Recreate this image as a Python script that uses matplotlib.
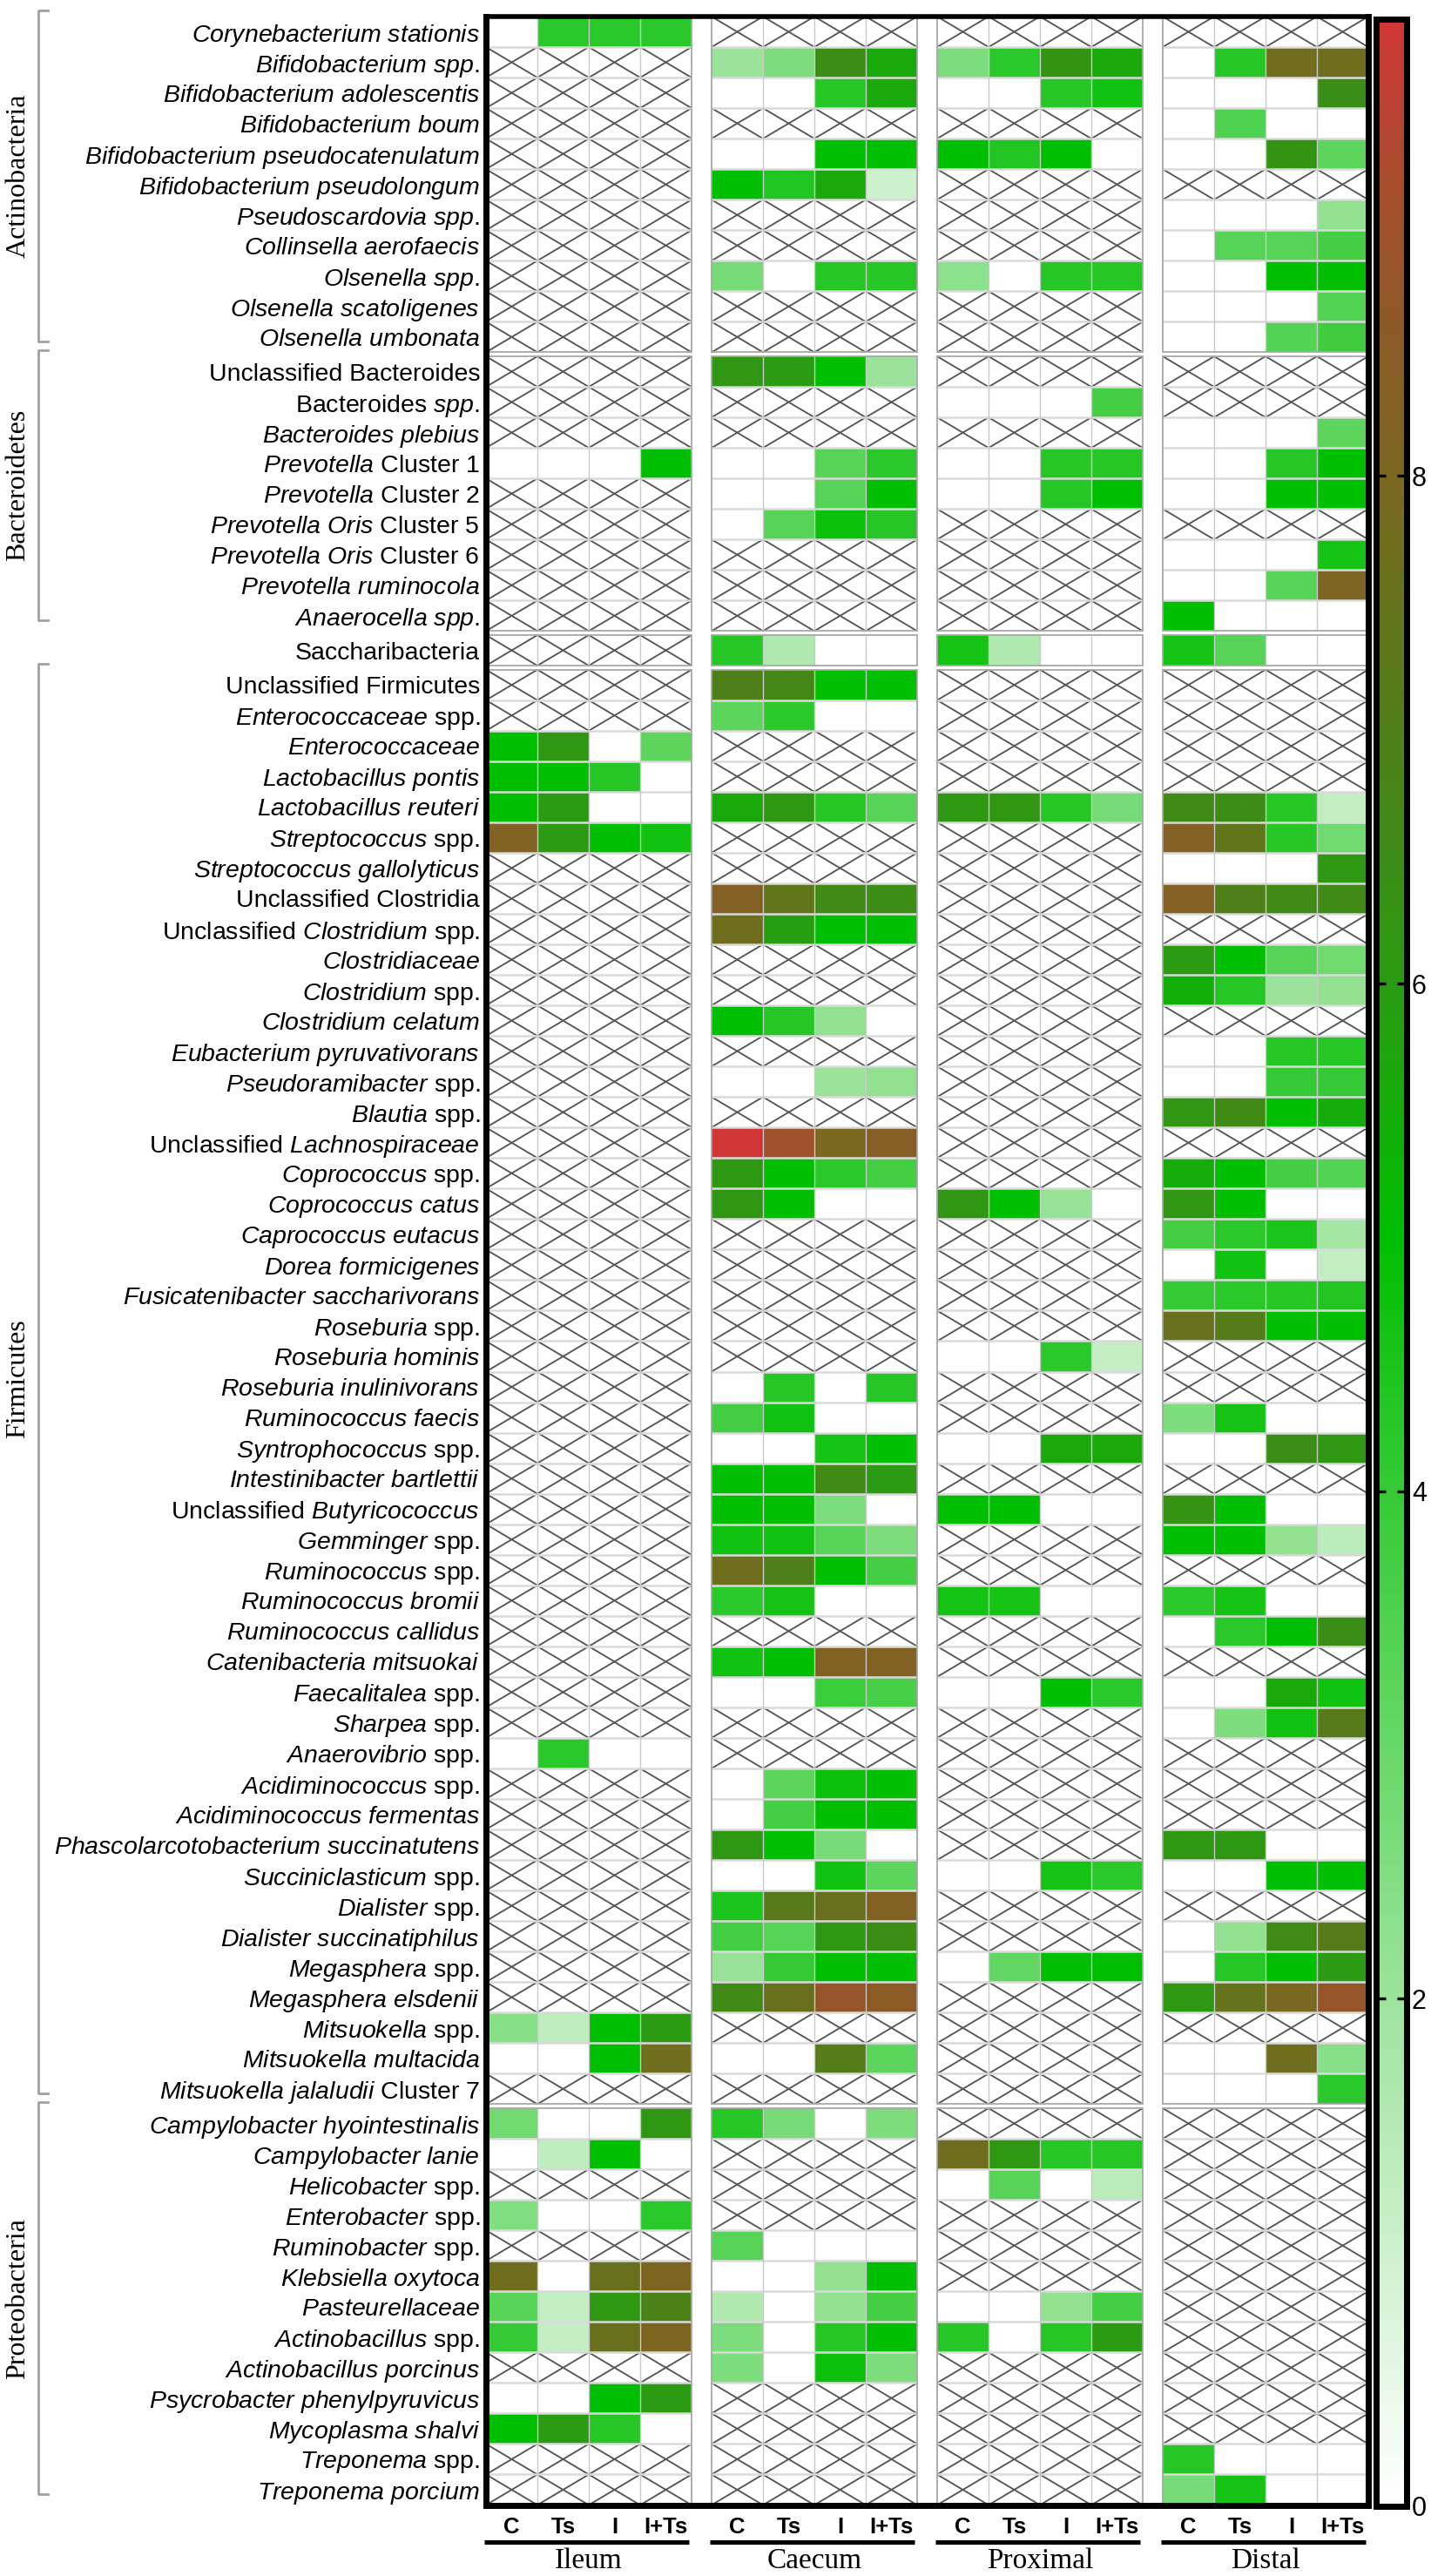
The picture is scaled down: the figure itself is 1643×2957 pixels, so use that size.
import numpy as np
import matplotlib
matplotlib.use("Agg")
import matplotlib.pyplot as plt
from matplotlib.colors import LinearSegmentedColormap, Normalize
from matplotlib.collections import LineCollection
from matplotlib.patches import Rectangle
import matplotlib.cm as cm
import matplotlib.transforms as mtransforms

plt.rcParams['font.family'] = ['Liberation Sans', 'DejaVu Sans']
plt.rcParams['mathtext.fontset'] = 'custom'
plt.rcParams['mathtext.it'] = 'Liberation Sans:italic'
plt.rcParams['mathtext.rm'] = 'Liberation Sans'
plt.rcParams['mathtext.bf'] = 'Liberation Sans:bold'

N = np.nan
NN = [N, N, N, N]

taxa = [
    "*Corynebacterium stationis*", "*Bifidobacterium spp.*", "*Bifidobacterium adolescentis*",
    "*Bifidobacterium boum*", "*Bifidobacterium pseudocatenulatum*", "*Bifidobacterium pseudolongum*",
    "*Pseudoscardovia spp.*", "*Collinsella aerofaecis*", "*Olsenella spp.*",
    "*Olsenella scatoligenes*", "*Olsenella umbonata*",
    "Unclassified Bacteroides", "Bacteroides *spp.*", "*Bacteroides plebius*",
    "*Prevotella* Cluster 1", "*Prevotella* Cluster 2", "*Prevotella Oris* Cluster 5",
    "*Prevotella Oris* Cluster 6", "*Prevotella ruminocola*", "*Anaerocella spp.*",
    "Saccharibacteria",
    "Unclassified Firmicutes", "*Enterococcaceae* spp.", "*Enterococcaceae*",
    "*Lactobacillus pontis*", "*Lactobacillus reuteri*", "*Streptococcus* spp.",
    "*Streptococcus gallolyticus*", "Unclassified Clostridia", "Unclassified *Clostridium* spp.",
    "*Clostridiaceae*", "*Clostridium* spp.", "*Clostridium celatum*",
    "*Eubacterium pyruvativorans*", "*Pseudoramibacter* spp.", "*Blautia* spp.",
    "Unclassified *Lachnospiraceae*", "*Coprococcus* spp.", "*Coprococcus catus*",
    "*Caprococcus eutacus*", "*Dorea formicigenes*", "*Fusicatenibacter saccharivorans*",
    "*Roseburia* spp.", "*Roseburia hominis*", "*Roseburia inulinivorans*",
    "*Ruminococcus faecis*", "*Syntrophococcus* spp.", "*Intestinibacter bartlettii*",
    "Unclassified *Butyricococcus*", "*Gemminger* spp.", "*Ruminococcus* spp.",
    "*Ruminococcus bromii*", "*Ruminococcus callidus*", "*Catenibacteria mitsuokai*",
    "*Faecalitalea* spp.", "*Sharpea* spp.", "*Anaerovibrio* spp.",
    "*Acidiminococcus* spp.", "*Acidiminococcus fermentas*", "*Phascolarcotobacterium succinatutens*",
    "*Succiniclasticum* spp.", "*Dialister* spp.", "*Dialister succinatiphilus*",
    "*Megasphera* spp.", "*Megasphera elsdenii*", "*Mitsuokella* spp.",
    "*Mitsuokella multacida*", "*Mitsuokella jalaludii* Cluster 7",
    "*Campylobacter hyointestinalis*", "*Campylobacter lanie*", "*Helicobacter* spp.",
    "*Enterobacter* spp.", "*Ruminobacter* spp.", "*Klebsiella oxytoca*",
    "*Pasteurellaceae*", "*Actinobacillus* spp.", "*Actinobacillus porcinus*",
    "*Psycrobacter phenylpyruvicus*", "*Mycoplasma shalvi*", "*Treponema* spp.",
    "*Treponema porcium*",
]

phylum_names = ["Actinobacteria", "Bacteroidetes", "", "Firmicutes", "Proteobacteria"]
phylum_sizes = [11, 9, 1, 47, 13]
sites = ["Ileum", "Caecum", "Proximal", "Distal"]
treatments = ["C", "Ts", "I", "I+Ts"]
cbar_ticks = [0, 2, 4, 6, 8]
vmax = 9.8

ileum = [
    [0, 4.2, 4.2, 4.2], NN, NN, NN, NN, NN, NN, NN, NN, NN, NN,          # 1-11
    NN, NN, NN, [0, 0, 0, 5.0], NN, NN, NN, NN, NN,                       # 12-20
    NN,                                                                    # 21
    NN, NN, [5.0, 6.1, 0, 3.2], [5.0, 5.0, 4.3, 0], [5.0, 6.0, 0, 0],     # 22-26
    [8.2, 6.0, 5.0, 4.7], NN, NN, NN, NN, NN, NN, NN, NN, NN,             # 27-36
    NN, NN, NN, NN, NN, NN, NN, NN, NN, NN,                               # 37-46
    NN, NN, NN, NN, NN, NN, NN, NN, NN, NN,                               # 47-56
    [0, 4.2, 0, 0], NN, NN, NN, NN, NN, NN, NN, NN,                       # 57-65
    [2.4, 1.3, 5.0, 6.0], [0, 0, 5.0, 7.7], NN,                           # 66-68
    [2.8, 0, 0, 6.1], [0, 1.3, 5.0, 0], NN, [2.5, 0, 0, 4.2], NN,         # 69-73
    [7.7, 0, 7.6, 8.1], [3.3, 1.2, 6.1, 6.9], [4.0, 1.2, 7.6, 8.1], NN,   # 74-77
    [0, 0, 5.0, 6.0], [5.0, 6.0, 4.3, 0], NN, NN,                         # 78-81
]

caecum = [
    NN, [2.0, 2.6, 6.5, 5.6], [0, 0, 4.3, 5.6], NN, [0, 0, 5.0, 5.0],
    [5.0, 4.4, 5.6, 1.0], NN, NN, [2.7, 0, 4.3, 4.3], NN, NN,             # 1-11
    [6.2, 6.0, 5.0, 2.0], NN, NN, [0, 0, 3.3, 4.2], [0, 0, 3.3, 5.0],
    [0, 3.3, 4.8, 4.3], NN, NN, NN,                                       # 12-20
    [4.3, 1.6, 0, 0],                                                     # 21
    [7.0, 6.7, 5.0, 5.0], [3.2, 4.2, 0, 0], NN, NN, [5.6, 6.1, 4.3, 3.3], # 22-26
    NN, NN, [8.3, 7.4, 6.6, 6.5], [7.7, 5.9, 5.0, 5.0], NN, NN,           # 27-32
    [5.0, 4.3, 2.2, 0], NN, [0, 0, 2.0, 2.2], NN, [9.8, 9.0, 8.0, 8.4],   # 33-37
    [6.1, 5.0, 4.2, 3.7], [6.2, 5.0, 0, 0], NN, NN, NN, NN, NN,           # 38-44
    [0, 4.3, 0, 4.3], [3.7, 4.7, 0, 0], [0, 0, 4.6, 5.0],                 # 45-47
    [5.0, 5.0, 6.6, 6.0], [5.0, 5.0, 2.6, 0], [4.7, 4.7, 3.3, 2.6],       # 48-50
    [7.7, 7.0, 5.0, 3.7], [4.2, 4.6, 0, 0], NN, [4.7, 5.0, 8.2, 8.2],     # 51-54
    [0, 0, 3.9, 3.6], NN, NN, [0, 3.2, 4.8, 5.0], [0, 3.7, 5.0, 5.0],     # 55-59
    [6.1, 5.0, 2.7, 0], [0, 0, 4.7, 3.2], [4.5, 7.2, 7.6, 8.2],           # 60-62
    [3.7, 3.3, 6.1, 6.5], [2.1, 4.0, 5.0, 5.0], [6.6, 7.6, 8.8, 8.5],     # 63-65
    NN, [0, 0, 7.1, 3.2], NN,                                             # 66-68
    [4.3, 2.7, 0, 2.6], NN, NN, NN, [3.3, 0, 0, 0], [0, 0, 2.2, 5.0],     # 69-74
    [1.6, 0, 2.2, 3.7], [2.6, 0, 4.3, 5.0], [2.6, 0, 4.8, 2.6],           # 75-77
    NN, NN, NN, NN,                                                       # 78-81
]

proximal = [
    NN, [2.6, 4.2, 6.3, 5.6], [0, 0, 4.3, 4.7], NN, [5.0, 4.4, 5.0, 0],
    NN, NN, NN, [2.3, 0, 4.3, 4.3], NN, NN,                               # 1-11
    NN, [0, 0, 0, 3.7], NN, [0, 0, 4.3, 4.3], [0, 0, 4.3, 5.0],
    NN, NN, NN, NN,                                                       # 12-20
    [4.6, 1.6, 0, 0],                                                     # 21
    NN, NN, NN, NN, [6.1, 6.2, 4.3, 2.7],                                 # 22-26
    NN, NN, NN, NN, NN, NN, NN, NN, NN, NN, NN, NN,                       # 27-38
    [6.2, 5.0, 2.1, 0], NN, NN, NN, NN, [0, 0, 4.2, 1.2], NN, NN,         # 39-46
    [0, 0, 5.6, 5.6], NN, [5.0, 5.0, 0, 0], NN, NN, [4.6, 4.6, 0, 0],     # 47-52
    NN, NN, [0, 0, 5.0, 4.2], NN, NN, NN, NN, NN,                         # 53-60
    [0, 0, 4.6, 4.2], NN, NN, [0, 3.1, 5.0, 5.0], NN, NN, NN, NN,         # 61-68
    NN, [7.7, 6.1, 4.3, 4.3], [0, 3.3, 0, 1.4], NN, NN, NN,               # 69-74
    [0, 0, 2.2, 3.7], [4.3, 0, 4.3, 6.0], NN, NN, NN, NN, NN,             # 75-81
]

distal = [
    NN, [0, 4.3, 7.8, 7.7], [0, 0, 0, 6.4], [0, 3.5, 0, 0], [0, 0, 6.3, 3.2],
    NN, [0, 0, 0, 2.2], [0, 3.3, 3.3, 3.7], [0, 0, 5.0, 5.0],
    [0, 0, 0, 3.4], [0, 0, 3.4, 3.8],                                     # 1-11
    NN, NN, [0, 0, 0, 3.2], [0, 0, 4.3, 5.0], [0, 0, 5.0, 5.0], NN,
    [0, 0, 0, 4.6], [0, 0, 3.3, 8.1], [5.0, 0, 0, 0],                     # 12-20
    [4.6, 3.3, 0, 0],                                                     # 21
    NN, NN, NN, NN, [6.6, 6.5, 4.3, 1.2], [8.3, 7.4, 4.3, 2.8],           # 22-27
    [0, 0, 0, 6.1], [8.3, 7.0, 6.6, 6.6], NN, [6.0, 5.0, 3.3, 2.8],       # 28-31
    [5.4, 4.3, 2.0, 2.2], NN, [0, 0, 4.3, 4.3], [0, 0, 4.0, 4.0],         # 32-35
    [6.2, 6.6, 5.0, 5.5], NN, [5.5, 5.0, 3.7, 3.4], [6.2, 5.0, 0, 0],     # 36-39
    [3.7, 4.2, 4.5, 1.8], [0, 4.7, 0, 1.2], [4.0, 4.2, 4.3, 4.4],         # 40-42
    [7.6, 7.1, 5.0, 5.0], NN, NN, [2.6, 4.6, 0, 0], [0, 0, 6.4, 6.2],     # 43-47
    NN, [6.3, 5.0, 0, 0], [5.0, 5.0, 2.2, 1.4], NN, [4.2, 4.6, 0, 0],     # 48-52
    [0, 4.2, 5.0, 6.4], NN, [0, 0, 5.6, 4.7], [0, 2.6, 4.7, 7.2],         # 53-56
    NN, NN, NN, [6.1, 6.1, 0, 0], [0, 0, 5.0, 5.0], NN,                   # 57-62
    [0, 2.2, 6.6, 7.2], [0, 4.3, 5.0, 6.0], [6.1, 7.5, 8.0, 8.8],         # 63-65
    NN, [0, 0, 7.7, 2.4], [0, 0, 0, 4.2],                                 # 66-68
    NN, NN, NN, NN, NN, NN, NN, NN, NN, NN, NN,                           # 69-79
    [4.3, 0, 0, 0], [2.7, 4.6, 0, 0],                                     # 80-81
]

groups = [ileum, caecum, proximal, distal]
for g in groups:
    assert len(g) == len(taxa) == 81

# ---- colormap (white -> green -> olive -> brown -> red) ----
cm_vals = [0.0, 1.0, 2.0, 3.0, 4.0, 5.0, 6.0, 7.0, 8.0, 8.6, 9.2, 9.8]
cm_cols = ['#ffffff', '#cdf0cd', '#9be39b', '#66d866', '#35ca35', '#00be00',
           '#2a9b12', '#4f7f18', '#7a6720', '#8c5926', '#a84c2c', '#d03636']
cmap = LinearSegmentedColormap.from_list(
    'gbr', list(zip([v / vmax for v in cm_vals], cm_cols)))
norm = Normalize(0, vmax)


def to_mathtext(s):
    parts = s.split('*')
    out = ''
    for k, p in enumerate(parts):
        if k % 2 == 1:
            out += r'$\mathit{' + p.replace(' ', r'\ ') + '}$'
        else:
            out += p
    return out


FW, FH = 1643, 2957
fig = plt.figure(figsize=(FW / 100, FH / 100), dpi=100)
ax_l, ax_r, ax_t, ax_b = 558, 1571, 19, 2875.5
ax = fig.add_axes([ax_l / FW, 1 - ax_b / FH, (ax_r - ax_l) / FW, (ax_b - ax_t) / FH])

gx, gy = 0.39, 0.133
W = 16 + 3 * gx
H = len(taxa) + (len(phylum_sizes) - 1) * gy
bounds = np.concatenate([[0], np.cumsum(phylum_sizes)])
px_per_unit = (ax_b - ax_t) / H

hatch_segs, vgrid, hgrid = [], [], []
for g, data in enumerate(groups):
    arr = np.array(data, dtype=float)
    x0 = g * (4 + gx)
    xe = x0 + np.arange(5)
    for b in range(len(phylum_sizes)):
        r0, r1 = bounds[b], bounds[b + 1]
        y0 = r0 + b * gy
        ye = y0 + np.arange(r1 - r0 + 1)
        sub = arr[r0:r1]
        ax.pcolormesh(xe, ye, np.ma.masked_invalid(sub), cmap=cmap, norm=norm,
                      edgecolors='none', zorder=1)
        for i, j in np.argwhere(np.isnan(sub)):
            hatch_segs.append([(xe[j], ye[i]), (xe[j + 1], ye[i + 1])])
            hatch_segs.append([(xe[j + 1], ye[i]), (xe[j], ye[i + 1])])
        for xx in xe[1:-1]:
            vgrid.append([(xx, ye[0]), (xx, ye[-1])])
        for yy in ye[1:-1]:
            hgrid.append([(xe[0], yy), (xe[-1], yy)])
        ax.add_patch(Rectangle((xe[0], ye[0]), 4, r1 - r0, fill=False,
                               ec='#a8a8a8', lw=1.3, zorder=4))

ax.add_collection(LineCollection(hatch_segs, colors='#555555', linewidths=1.35, zorder=2))
ax.add_collection(LineCollection(hgrid, colors='#dadada', linewidths=1.8, zorder=3))
ax.add_collection(LineCollection(vgrid, colors='#cacaca', linewidths=1.0, zorder=3))

ax.set_xlim(0, W)
ax.set_ylim(H, 0)

# y labels
ycent = []
for b in range(len(phylum_sizes)):
    for r in range(bounds[b], bounds[b + 1]):
        ycent.append(r + b * gy + 0.5)
ax.set_yticks(ycent)
ax.set_yticklabels([to_mathtext(t) for t in taxa], fontsize=20.5)
ax.tick_params(axis='y', length=0, pad=5)

# x labels
xcent = [g * (4 + gx) + j + 0.5 for g in range(4) for j in range(4)]
ax.set_xticks(xcent)
ax.set_xticklabels(treatments * 4, fontsize=18.5, fontweight='bold')
ax.tick_params(axis='x', length=0, pad=10)

for s in ax.spines.values():
    s.set_linewidth(5.0)
    s.set_color('black')
    s.set_zorder(6)
ax.spines['top'].set_linewidth(4.0)

# site underlines and names
ul_y = H + (2917.5 - ax_b) / px_per_unit
nm_y = H + (2948 - ax_b) / px_per_unit
for g, site in enumerate(sites):
    x0 = g * (4 + gx)
    ax.plot([x0 - 0.03, x0 + 3.95], [ul_y, ul_y], color='black', lw=3.7,
            solid_capstyle='butt', clip_on=False)
    ax.text(x0 + 2, nm_y, site, ha='center', va='baseline', fontsize=24,
            family='Liberation Serif', clip_on=False)

# phylum brackets and labels
trans = mtransforms.blended_transform_factory(fig.transFigure, ax.transData)
xv, xt, xlab = 44 / FW, 55 / FW, 21 / FW
for b, name in enumerate(phylum_names):
    if not name:
        continue
    top = bounds[b] + b * gy - 0.2
    bot = bounds[b + 1] + b * gy - 0.35
    ax.plot([xt, xv, xv, xt], [top, top, bot, bot], color='#a0a0a0', lw=2.0,
            transform=trans, clip_on=False)
    ax.text(xlab, (top + bot) / 2, name, transform=trans, rotation=90,
            ha='center', va='center', fontsize=23, family='Liberation Serif')

# colorbar
cb_l, cb_r, cb_t, cb_b = 1579.5, 1614.5, 22, 2877
cax = fig.add_axes([cb_l / FW, 1 - cb_b / FH, (cb_r - cb_l) / FW, (cb_b - cb_t) / FH])
sm = cm.ScalarMappable(norm=norm, cmap=cmap)
cb = fig.colorbar(sm, cax=cax, ticks=cbar_ticks)
cb.outline.set_linewidth(5.0)
cax.tick_params(direction='in', length=8, width=2.4, left=True, right=True,
                labelsize=22, pad=4.5, color='black')

fig.savefig('out.png', dpi=100)
